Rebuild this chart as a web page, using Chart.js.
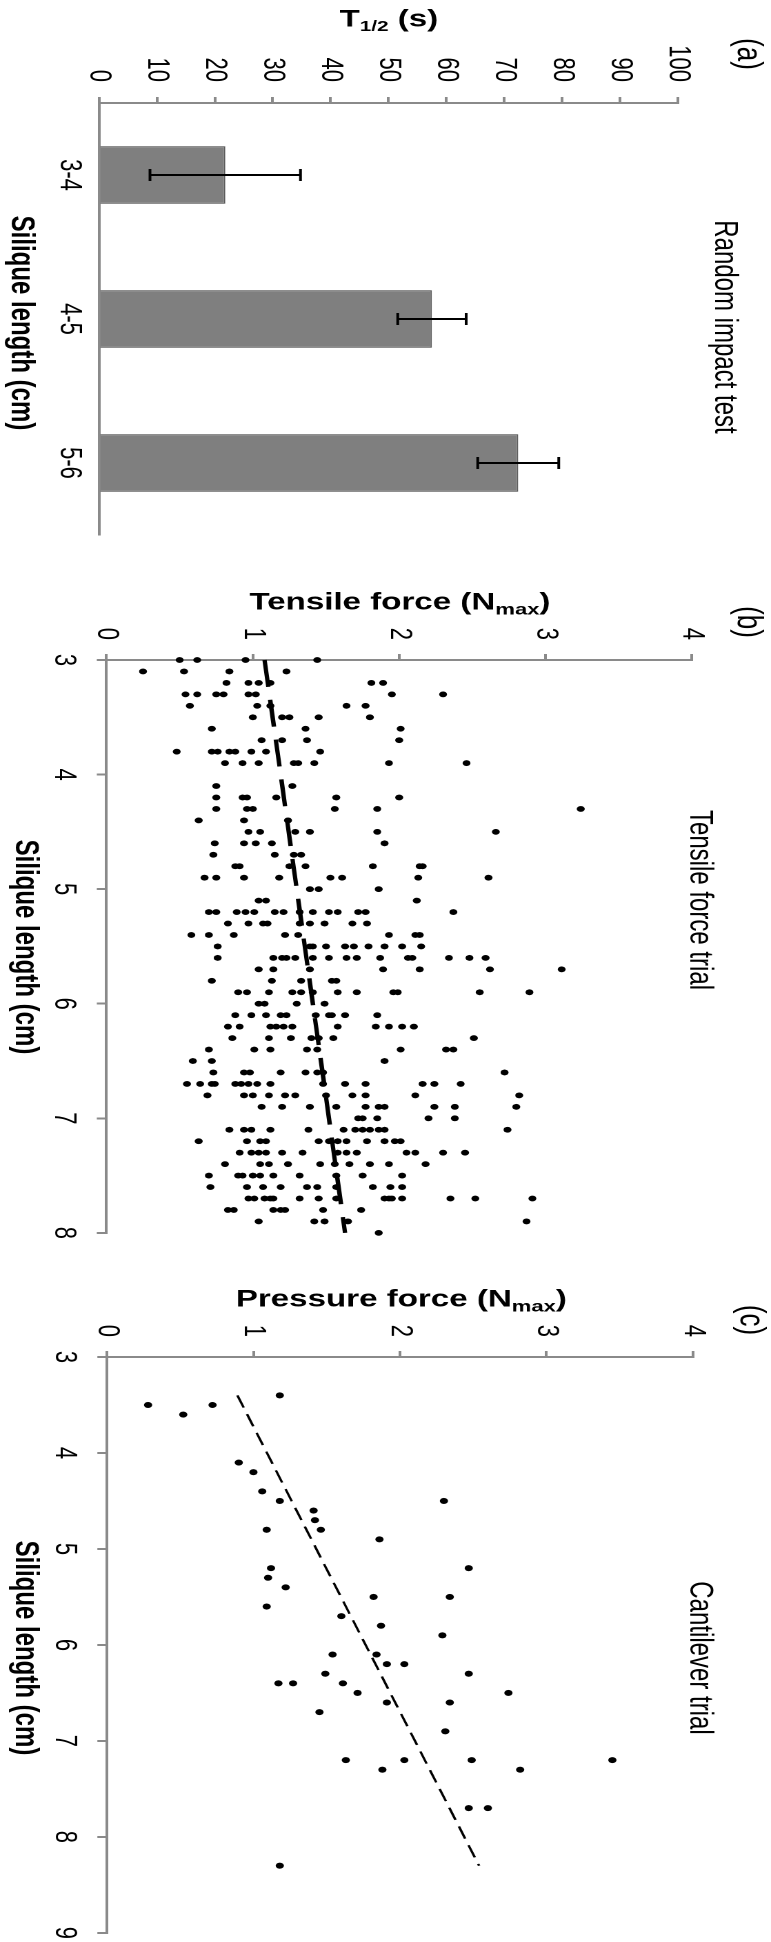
<!DOCTYPE html>
<html>
<head>
<meta charset="utf-8">
<script src="https://cdn.jsdelivr.net/npm/chart.js@4.4.1/dist/chart.umd.min.js"></script>
<style>
    html, body { margin: 0; padding: 0; background: #fff; width: 771px; height: 1942px; overflow: hidden; }
    .panel { position: absolute; left: 0; transform-origin: 0 0; }
    .panel canvas { display: block; }
</style>
</head>
<body>
<div class="panel" id="panel-a"><canvas id="chart-a"></canvas></div>
<div class="panel" id="panel-b"><canvas id="chart-b"></canvas></div>
<div class="panel" id="panel-c"><canvas id="chart-c"></canvas></div>
<script>
// (a) random impact test
const impactLabels = ['3-4', '4-5', '5-6'];
const impactMeans = [21.8, 57.5, 72.4];
const impactErrors = [13.0, 5.9, 7.0];
const impactTicks = [0, 10, 20, 30, 40, 50, 60, 70, 80, 90, 100];

// (b) tensile force trial, one row per silique length
const tensileLengths = [3.0, 3.1, 3.2, 3.3, 3.4, 3.5, 3.6, 3.7, 3.8, 3.9,
    4.1, 4.2, 4.3, 4.4, 4.5, 4.6, 4.7, 4.8, 4.9, 5.0,
    5.1, 5.2, 5.3, 5.4, 5.5, 5.6, 5.7, 5.8, 5.9, 6.0,
    6.1, 6.2, 6.3, 6.4, 6.5, 6.6, 6.7, 6.8, 6.9, 7.0,
    7.1, 7.2, 7.3, 7.4, 7.5, 7.6, 7.7, 7.8, 7.9, 8.0];
const tensileForces = [
    [0.50, 0.62, 0.95, 1.44],
    [0.25, 0.53, 0.84, 1.23],
    [0.82, 0.97, 1.04, 1.12, 1.81, 1.89],
    [0.54, 0.62, 0.75, 0.80, 0.97, 1.02, 1.95, 2.30],
    [0.57, 1.03, 1.12, 1.64, 1.77],
    [1.00, 1.20, 1.25, 1.45, 1.80],
    [0.72, 1.36, 2.01],
    [1.06, 1.20, 1.37, 2.00],
    [0.48, 0.72, 0.76, 0.84, 0.88, 0.99, 1.09, 1.46],
    [0.81, 0.93, 1.04, 1.28, 1.31, 1.42, 1.93, 2.46],
    [0.75, 1.27],
    [0.75, 0.93, 0.96, 1.16, 1.57, 2.00],
    [0.75, 0.96, 1.00, 1.56, 1.85, 3.24],
    [0.63, 0.94, 1.24],
    [0.97, 1.05, 1.29, 1.39, 1.85, 2.66],
    [0.74, 0.94, 1.02, 1.13, 1.90],
    [0.73, 1.15, 1.28, 1.33],
    [0.88, 0.91, 1.25, 1.36, 1.82, 2.14, 2.16],
    [0.67, 0.75, 0.94, 1.18, 1.53, 1.61, 2.13, 2.61],
    [1.39, 1.45, 1.86],
    [1.04, 1.09, 2.12],
    [0.70, 0.75, 0.89, 0.95, 1.01, 1.15, 1.21, 1.32, 1.41, 1.52, 1.58, 1.72, 1.77, 2.37],
    [0.83, 0.97, 1.07, 1.10, 1.32, 1.39, 1.49, 1.68, 1.78],
    [0.58, 0.70, 0.87, 1.22, 1.31, 1.93, 2.11, 2.14],
    [0.76, 1.39, 1.41, 1.50, 1.63, 1.69, 1.79, 1.90, 2.02, 2.15],
    [0.76, 1.14, 1.20, 1.23, 1.29, 1.41, 1.52, 1.64, 1.71, 1.87, 2.06, 2.09, 2.34, 2.48, 2.59],
    [1.04, 1.14, 1.39, 1.89, 2.14, 2.62, 3.11],
    [0.72, 1.13, 1.33, 1.54, 1.57],
    [0.90, 0.96, 1.11, 1.27, 1.33, 1.41, 1.58, 1.71, 1.96, 1.99, 2.55, 2.89],
    [1.04, 1.08, 1.30, 1.49],
    [0.88, 0.99, 1.09, 1.19, 1.23, 1.43, 1.52, 1.54, 1.63, 1.85],
    [0.83, 0.91, 1.12, 1.16, 1.21, 1.27, 1.58, 1.84, 1.93, 2.02, 2.10],
    [0.86, 1.11, 1.26, 1.40, 1.45, 1.55, 2.51],
    [0.70, 1.01, 1.12, 1.37, 1.44, 2.01, 2.32, 2.37],
    [0.59, 0.72, 1.90],
    [0.73, 0.94, 0.98, 1.19, 1.36, 1.44, 1.48, 2.72],
    [0.55, 0.64, 0.72, 0.74, 0.88, 0.92, 0.97, 1.03, 1.12, 1.48, 1.63, 1.77, 2.16, 2.24, 2.42],
    [0.69, 0.94, 1.00, 1.11, 1.22, 1.29, 1.50, 1.68, 1.77, 2.11, 2.82],
    [1.06, 1.20, 1.39, 1.57, 1.77, 1.86, 1.90, 2.24, 2.38, 2.80],
    [1.72, 1.75, 1.85, 2.20, 2.38],
    [0.84, 0.94, 0.99, 1.12, 1.38, 1.62, 1.70, 1.75, 1.80, 1.86, 1.90, 2.74],
    [0.63, 0.96, 1.05, 1.09, 1.45, 1.52, 1.58, 1.64, 1.78, 1.90, 1.97, 2.01],
    [0.91, 0.99, 1.04, 1.09, 1.20, 1.34, 1.58, 1.64, 1.71, 2.05, 2.11, 2.30, 2.45],
    [0.81, 1.05, 1.11, 1.24, 1.46, 1.56, 1.66, 1.80, 1.93, 2.18],
    [0.70, 0.90, 0.93, 1.00, 1.05, 1.14, 1.32, 1.57, 1.75, 2.02],
    [0.71, 0.96, 1.07, 1.19, 1.37, 1.44, 1.57, 1.82, 1.94, 2.02],
    [0.97, 1.01, 1.08, 1.12, 1.14, 1.32, 1.45, 1.57, 1.90, 1.93, 1.95, 2.02, 2.35, 2.52, 2.91],
    [0.83, 0.87, 1.14, 1.19, 1.22, 1.48, 1.74],
    [1.04, 1.42, 1.49, 1.65, 2.87],
    [1.86]
];
const tensileTrendX = [3, 8];
const tensileTrendY = [1.08, 1.63];
const tensileLengthTicks = [3, 4, 5, 6, 7, 8];

// (c) cantilever trial
const cantileverLengths = [3.4, 3.5, 3.6, 4.1, 4.2, 4.4, 4.5, 4.6, 4.7, 4.8, 4.9,
    5.2, 5.3, 5.4, 5.5, 5.6, 5.7, 5.8, 5.9, 6.1, 6.2, 6.3, 6.4, 6.5, 6.6, 6.7, 6.9,
    7.2, 7.3, 7.7, 8.3];
const cantileverForces = [
    [1.18], [0.28, 0.72], [0.52], [0.90], [1.00], [1.06], [1.18, 2.30], [1.41], [1.42],
    [1.09, 1.46], [1.86], [1.12, 2.47], [1.10], [1.22], [1.82, 2.34], [1.09], [1.60],
    [1.87], [2.29], [1.54, 1.84], [1.91, 2.03], [1.49, 2.47], [1.17, 1.27, 1.61],
    [1.71, 2.74], [1.91, 2.34], [1.45], [2.31], [1.63, 2.03, 2.49, 3.45], [1.88, 2.82],
    [2.47, 2.60], [1.18]
];
const cantileverTrendX = [3.4, 8.3];
const cantileverTrendY = [0.89, 2.54];
const cantileverLengthTicks = [3, 4, 5, 6, 7, 8, 9];

const forceTicks = [0, 1, 2, 3, 4];

// the figure is drawn upright, then turned a quarter clockwise and stretched
const PAGE_W = 771;
const H0 = 559;
const STRETCH = PAGE_W / H0;
const AXIS_GREY = '#8a8a8a';
const FONT = "'Liberation Sans', Arial, sans-serif";

Chart.defaults.font.family = FONT;
Chart.defaults.color = '#000';

function setupPanel(id, top, width) {
    const wrap = document.getElementById('panel-' + id);
    wrap.style.top = top + 'px';
    wrap.style.transform = 'rotate(90deg) scaleY(' + STRETCH + ') translateY(-' + H0 + 'px)';
    const canvas = document.getElementById('chart-' + id);
    canvas.width = width;
    canvas.height = H0;
    return canvas;
}

function textPlugin(items) {
    return {
        id: 'panelText',
        afterDraw(chart) {
            const ctx = chart.ctx;
            items.forEach(item => {
                ctx.save();
                ctx.translate(item.u, item.v);
                if (item.rotate) ctx.rotate(-Math.PI / 2);
                ctx.fillStyle = '#000';
                ctx.textBaseline = 'middle';
                ctx.textAlign = 'left';
                let total = 0;
                const widths = item.parts.map(p => {
                    ctx.font = (p.bold ? 'bold ' : '') + p.size + 'px ' + FONT;
                    const w = ctx.measureText(p.text).width;
                    total += w;
                    return w;
                });
                let x = -total / 2;
                item.parts.forEach((p, i) => {
                    ctx.font = (p.bold ? 'bold ' : '') + p.size + 'px ' + FONT;
                    ctx.fillText(p.text, x, p.dy || 0);
                    x += widths[i];
                });
                ctx.restore();
            });
        }
    };
}

const errorBarPlugin = {
    id: 'errorBars',
    afterDatasetsDraw(chart) {
        const ctx = chart.ctx;
        const yScale = chart.scales.y;
        const meta = chart.getDatasetMeta(0);
        ctx.save();
        ctx.strokeStyle = '#000';
        ctx.lineWidth = 2;
        meta.data.forEach((bar, i) => {
            const lo = yScale.getPixelForValue(impactMeans[i] - impactErrors[i]);
            const hi = yScale.getPixelForValue(impactMeans[i] + impactErrors[i]);
            const cap = 6;
            ctx.beginPath();
            ctx.moveTo(bar.x, lo); ctx.lineTo(bar.x, hi);
            ctx.moveTo(bar.x - cap, lo); ctx.lineTo(bar.x + cap, lo);
            ctx.moveTo(bar.x - cap, hi); ctx.lineTo(bar.x + cap, hi);
            ctx.stroke();
        });
        ctx.restore();
    }
};

function fixedTicks(values) {
    return scale => { scale.ticks = values.map(v => ({ value: v })); };
}

function rowsToPoints(lengths, forces) {
    return lengths.flatMap((len, i) => forces[i].map(f => ({ x: len, y: f })));
}

function bold(text, size, dy) { return { text, size, bold: true, dy }; }
function plain(text, size) { return { text, size }; }

// ---------- (a) ----------
const canvasA = setupPanel('a', 0, 590);
new Chart(canvasA, {
    type: 'bar',
    data: {
        labels: impactLabels,
        datasets: [{
            data: impactMeans,
            backgroundColor: '#7f7f7f',
            borderColor: '#5a5a5a',
            borderWidth: 1,
            barPercentage: 0.4,
            categoryPercentage: 1
        }]
    },
    options: {
        responsive: false,
        animation: false,
        devicePixelRatio: 2,
        layout: { padding: { top: 67.4, right: 55, left: 0, bottom: 0 } },
        plugins: { legend: { display: false }, tooltip: { enabled: false } },
        scales: {
            x: {
                grid: { display: true, drawOnChartArea: false, drawTicks: false },
                border: { color: AXIS_GREY, width: 2 },
                ticks: { padding: 8.6, font: { size: 22 }, color: '#000', maxRotation: 0 },
                afterFit: s => { s.height = H0 - 487.2; }
            },
            y: {
                min: 0, max: 100,
                afterBuildTicks: fixedTicks(impactTicks),
                grid: { drawOnChartArea: false, tickLength: 6, color: AXIS_GREY, lineWidth: 2 },
                border: { color: AXIS_GREY, width: 2 },
                ticks: { padding: 15, font: { size: 22 }, color: '#000' },
                afterFit: s => { s.width = 103; }
            }
        }
    },
    plugins: [errorBarPlugin, textPlugin([
        { parts: [plain('(a)', 26)], u: 54, v: 17 },
        { parts: [plain('Random impact test', 24)], u: 327, v: 34 },
        { parts: [bold('T', 24), bold('1/2', 15, 7), bold(' (s)', 24)], u: 20, v: 277, rotate: true },
        { parts: [bold('Silique length (cm)', 24)], u: 323, v: 544 }
    ])]
});

// ---------- scatter panels ----------
function scatterChart(canvas, cfg) {
    return new Chart(canvas, {
        type: 'scatter',
        data: {
            datasets: [
                {
                    data: cfg.points,
                    backgroundColor: '#000',
                    borderWidth: 0,
                    pointRadius: cfg.radius,
                    clip: false
                },
                {
                    data: cfg.trendX.map((x, i) => ({ x, y: cfg.trendY[i] })),
                    showLine: true,
                    borderColor: '#000',
                    borderWidth: cfg.trendWidth,
                    borderDash: cfg.trendDash,
                    pointRadius: 0,
                    clip: false
                }
            ]
        },
        options: {
            responsive: false,
            animation: false,
            devicePixelRatio: 2,
            layout: { padding: { top: cfg.area.top, right: cfg.width - cfg.area.right, left: 0, bottom: 0 } },
            plugins: { legend: { display: false }, tooltip: { enabled: false } },
            scales: {
                x: {
                    type: 'linear',
                    min: cfg.xTicks[0], max: cfg.xTicks[cfg.xTicks.length - 1],
                    afterBuildTicks: fixedTicks(cfg.xTicks),
                    grid: { drawOnChartArea: false, tickLength: 7, color: AXIS_GREY, lineWidth: 2 },
                    border: { color: AXIS_GREY, width: 2 },
                    ticks: { padding: 11, font: { size: 22 }, color: '#000', maxRotation: 0 },
                    afterFit: s => { s.height = H0 - cfg.area.bottom; }
                },
                y: {
                    type: 'linear',
                    min: 0, max: 4,
                    afterBuildTicks: fixedTicks(forceTicks),
                    grid: { drawOnChartArea: false, tickLength: 6, color: AXIS_GREY, lineWidth: 2 },
                    border: { color: AXIS_GREY, width: 2 },
                    ticks: { padding: 14, font: { size: 22 }, color: '#000' },
                    afterFit: s => { s.width = cfg.area.left; }
                }
            }
        },
        plugins: [textPlugin(cfg.texts)]
    });
}

// ---------- (b) ----------
scatterChart(setupPanel('b', 580, 670), {
    width: 670,
    area: { left: 80, right: 658, top: 57.3, bottom: 481.8 },
    points: rowsToPoints(tensileLengths, tensileForces),
    radius: 2.9,
    trendX: tensileTrendX, trendY: tensileTrendY,
    trendWidth: 3.2, trendDash: [27, 13],
    xTicks: tensileLengthTicks,
    texts: [
        { parts: [plain('(b)', 26)], u: 42, v: 17 },
        { parts: [plain('Tensile force trial', 24)], u: 320, v: 52 },
        { parts: [bold('Tensile force (N', 24), bold('max', 16, 7), bold(')', 24)], u: 23, v: 269, rotate: true },
        { parts: [bold('Silique length (cm)', 24)], u: 367, v: 541 }
    ]
});

// ---------- (c) ----------
scatterChart(setupPanel('c', 1250, 700), {
    width: 700,
    area: { left: 107, right: 687, top: 56.6, bottom: 481.4 },
    points: rowsToPoints(cantileverLengths, cantileverForces),
    radius: 3,
    trendX: cantileverTrendX, trendY: cantileverTrendY,
    trendWidth: 1.8, trendDash: [13, 7],
    xTicks: cantileverLengthTicks,
    texts: [
        { parts: [plain('(c)', 26)], u: 70, v: 15 },
        { parts: [plain('Cantilever trial', 24)], u: 408, v: 52 },
        { parts: [bold('Pressure force (N', 24), bold('max', 16, 7), bold(')', 24)], u: 50, v: 268, rotate: true },
        { parts: [bold('Silique length (cm)', 24)], u: 398, v: 541 }
    ]
});
</script>
</body>
</html>
